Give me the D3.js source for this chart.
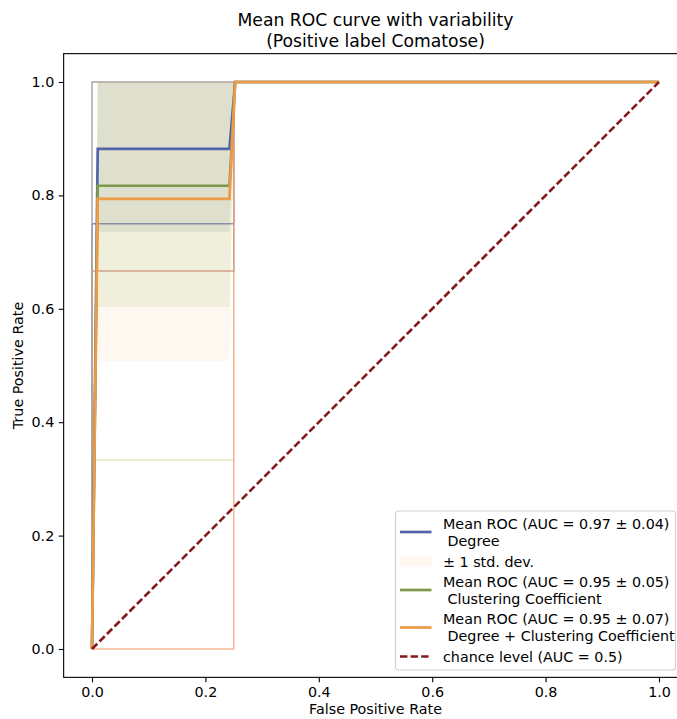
<!DOCTYPE html>
<html>
<head>
<meta charset="utf-8">
<script src="https://cdn.jsdelivr.net/npm/d3@7"></script>
<style>
  html, body { margin: 0; padding: 0; background: #fff; }
  svg { display: block; font-family: "DejaVu Sans", sans-serif; }
  text { white-space: pre; }
</style>
</head>
<body>
<svg id="chart" width="677" height="719"></svg>
<script>
// ---------------- data ----------------
const meanFpr = [0, 0.0101, 0.2424, 0.2525, 1.0];

const tprDegree   = [0, 0.882, 0.882, 1, 1];
const stdDegree   = [0, 0.146, 0.146, 0, 0];
const tprCluster  = [0, 0.817, 0.817, 1, 1];
const stdCluster  = [0, 0.214, 0.214, 0, 0];
const tprCombined = [0, 0.794, 0.794, 1, 1];
const stdCombined = [0, 0.286, 0.286, 0, 0];

// individual fold ROC curves (fpr, tpr)
const foldFpr = [
  [0, 0, 0.25, 0.25, 1],
  [0, 0, 0.25, 0.25, 1],
  [0, 0.25, 0.25, 1],
  [0, 0, 0.25, 0.25, 1],
  [0, 0, 1]
];
const foldTpr = [
  [0, 0.3333, 0.3333, 1, 1],
  [0, 0.75, 0.75, 1, 1],
  [0, 0, 1, 1],
  [0, 0.6667, 0.6667, 1, 1],
  [0, 1, 1]
];
const foldColors = ["#e8e6be", "#8890a8", "#f4b796", "#d3a08a", "#aaa6a3"];

const chanceFpr = [0, 1];
const chanceTpr = [0, 1];

const xTicks = [0, 0.2, 0.4, 0.6, 0.8, 1.0];
const yTicks = [0, 0.2, 0.4, 0.6, 0.8, 1.0];

const titleLines = ["Mean ROC curve with variability", "(Positive label Comatose)"];
const xLabel = "False Positive Rate";
const yLabel = "True Positive Rate";
const legendLabels = [
  ["Mean ROC (AUC = 0.97 \u00b1 0.04)", " Degree"],
  ["\u00b1 1 std. dev."],
  ["Mean ROC (AUC = 0.95 \u00b1 0.05)", " Clustering Coefficient"],
  ["Mean ROC (AUC = 0.95 \u00b1 0.07)", " Degree + Clustering Coefficient"],
  ["chance level (AUC = 0.5)"]
];

// ---------------- styles ----------------
const C_BLUE = "#5363aa", C_GREEN = "#7d9a4c", C_ORANGE = "#ef9a44", C_CHANCE = "#85191c";
const FS = 14.3;

const svg = d3.select("#chart");
const x = d3.scaleLinear().domain([-0.05, 1.05]).range([63.65, 687.35]);
const y = d3.scaleLinear().domain([-0.05, 1.05]).range([677.35, 53.65]);

const plot = svg.append("g");

function band(tpr, std) {
  return meanFpr.map((f, i) => ({
    f,
    lo: Math.max(tpr[i] - std[i], 0),
    hi: Math.min(tpr[i] + std[i], 1)
  }));
}
const area = d3.area().x(d => x(d.f)).y0(d => y(d.lo)).y1(d => y(d.hi));

// std bands
plot.append("path").attr("d", area(band(tprCombined, stdCombined)))
  .attr("fill", "rgb(240,160,80)").attr("fill-opacity", 0.08);
plot.append("path").attr("d", area(band(tprCluster, stdCluster)))
  .attr("fill", "rgb(110,170,40)").attr("fill-opacity", 0.1);
plot.append("path").attr("d", area(band(tprDegree, stdDegree)))
  .attr("fill", "rgb(128,128,120)").attr("fill-opacity", 0.14);

// fold curves
const line = d3.line().x(d => x(d[0])).y(d => y(d[1]));
foldFpr.forEach((fp, k) => {
  plot.append("path")
    .attr("d", line(fp.map((f, i) => [f, foldTpr[k][i]])))
    .attr("fill", "none").attr("stroke", foldColors[k]).attr("stroke-width", 1.5);
});

// mean curves
[[tprDegree, C_BLUE], [tprCluster, C_GREEN], [tprCombined, C_ORANGE]].forEach(([t, c]) => {
  plot.append("path")
    .attr("d", line(meanFpr.map((f, i) => [f, t[i]])))
    .attr("fill", "none").attr("stroke", c).attr("stroke-width", 2.7)
    .attr("stroke-linejoin", "miter");
});

// chance line
plot.append("path")
  .attr("d", line(chanceFpr.map((f, i) => [f, chanceTpr[i]])))
  .attr("fill", "none").attr("stroke", C_CHANCE).attr("stroke-width", 2.6)
  .attr("stroke-dasharray", "7.4,3.2");

// axes
const xAxis = d3.axisBottom(x).tickValues(xTicks).tickFormat(d3.format(".1f"))
  .tickSize(4.9).tickPadding(4.5).tickSizeOuter(0);
const yAxis = d3.axisLeft(y).tickValues(yTicks).tickFormat(d3.format(".1f"))
  .tickSize(4.9).tickPadding(4.5).tickSizeOuter(0);

const gx = svg.append("g").attr("transform", `translate(0,${y(-0.05)})`).call(xAxis);
const gy = svg.append("g").attr("transform", `translate(${x(-0.05)},0)`).call(yAxis);
[gx, gy].forEach(g => {
  g.select(".domain").remove();
  g.selectAll("line").attr("stroke", "#000").attr("stroke-width", 1.1);
  g.selectAll("text").attr("fill", "#000").style("font-size", FS + "px")
    .style("font-family", "DejaVu Sans, sans-serif");
});

// frame
svg.append("rect")
  .attr("x", x(-0.05)).attr("y", y(1.05))
  .attr("width", x(1.05) - x(-0.05)).attr("height", y(-0.05) - y(1.05))
  .attr("fill", "none").attr("stroke", "#000").attr("stroke-width", 1.1);

// title
const cx = (x(-0.05) + x(1.05)) / 2;
titleLines.forEach((t, i) => {
  svg.append("text").attr("x", cx).attr("y", 26 + i * 20.5)
    .attr("text-anchor", "middle").style("font-size", "17.2px").text(t);
});

// axis labels
svg.append("text").attr("x", cx).attr("y", 714).attr("text-anchor", "middle")
  .style("font-size", FS + "px").text(xLabel);
svg.append("text").attr("transform", `translate(23,${(y(-0.05) + y(1.05)) / 2}) rotate(-90)`)
  .attr("text-anchor", "middle").style("font-size", FS + "px").text(yLabel);

// legend
const lg = svg.append("g");
lg.append("rect").attr("x", 395.5).attr("y", 511).attr("width", 280).attr("height", 159)
  .attr("rx", 3).attr("fill", "#fff").attr("fill-opacity", 0.8)
  .attr("stroke", "#d0d0d0").attr("stroke-width", 1.1);

const entryY = [532, 561.5, 590, 627.5, 656.5];   // handle centres
const hx0 = 400, hx1 = 428.5, tx = 443;
const handleStyles = [
  {type: "line", color: C_BLUE},
  {type: "patch"},
  {type: "line", color: C_GREEN},
  {type: "line", color: C_ORANGE},
  {type: "dash", color: C_CHANCE}
];
legendLabels.forEach((lines, i) => {
  const cy = entryY[i];
  const hs = handleStyles[i];
  if (hs.type === "patch") {
    lg.append("rect").attr("x", hx0).attr("y", cy - 5).attr("width", hx1 - hx0 + 3).attr("height", 10)
      .attr("fill", "rgb(240,160,80)").attr("fill-opacity", 0.08);
  } else {
    lg.append("line").attr("x1", hx0).attr("x2", hx1 + 3).attr("y1", cy).attr("y2", cy)
      .attr("stroke", hs.color).attr("stroke-width", 2.7)
      .attr("stroke-dasharray", hs.type === "dash" ? "7.4,3.2" : null);
  }
  const n = lines.length;
  lines.forEach((t, j) => {
    const centre = cy + (j - (n - 1) / 2) * 17;
    lg.append("text").attr("x", tx).attr("y", centre + 5)
      .style("font-size", FS + "px").text(t);
  });
});
</script>
</body>
</html>
